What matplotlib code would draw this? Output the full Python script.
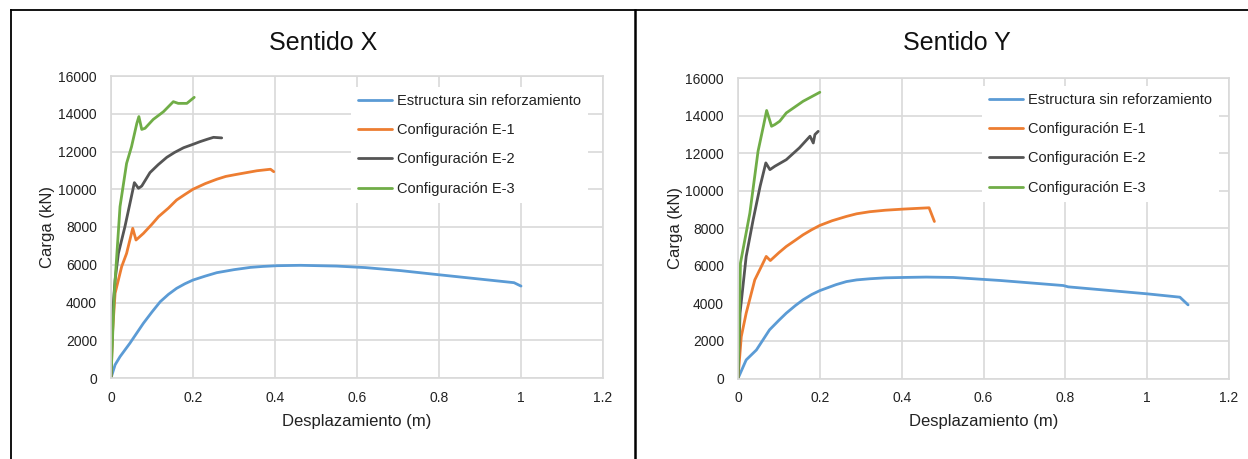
import matplotlib
matplotlib.use("Agg")
import matplotlib.pyplot as plt
from matplotlib.lines import Line2D

plt.rcParams['font.family'] = ['Liberation Sans', 'DejaVu Sans']

# ---- Sentido X ----
x_sin_X = [0, 0.01, 0.022, 0.046, 0.079, 0.1, 0.12, 0.14, 0.16, 0.18, 0.2, 0.23, 0.258,
           0.3, 0.34, 0.37, 0.405, 0.462, 0.55, 0.62, 0.706, 0.804, 0.9, 0.983, 1.0]
y_sin_X = [0, 700, 1130, 1840, 2900, 3500, 4040, 4430, 4750, 4990, 5190, 5400, 5580,
           5740, 5860, 5910, 5950, 5970, 5930, 5850, 5690, 5460, 5240, 5050, 4870]

x_e1_X = [0, 0.004, 0.01, 0.026, 0.038, 0.053, 0.061, 0.079, 0.1, 0.116, 0.14, 0.16,
          0.18, 0.2, 0.23, 0.258, 0.28, 0.307, 0.356, 0.389, 0.397]
y_e1_X = [0, 2500, 4490, 5900, 6600, 7930, 7310, 7660, 8150, 8550, 9000, 9430,
          9720, 10000, 10300, 10530, 10680, 10790, 10980, 11060, 10930]

x_e2_X = [0, 0.004, 0.01, 0.018, 0.034, 0.048, 0.057, 0.067, 0.075, 0.095, 0.115,
          0.136, 0.155, 0.177, 0.2, 0.217, 0.235, 0.25, 0.27]
y_e2_X = [0, 3500, 5190, 6600, 8020, 9430, 10350, 10050, 10170, 10880, 11300,
          11690, 11950, 12200, 12380, 12520, 12650, 12750, 12720]

x_e3_X = [0, 0.008, 0.022, 0.038, 0.05, 0.063, 0.068, 0.075, 0.083, 0.103, 0.128,
          0.152, 0.164, 0.185, 0.203]
y_e3_X = [0, 4500, 9080, 11370, 12250, 13490, 13850, 13170, 13230, 13700, 14110,
          14640, 14550, 14550, 14870]

# ---- Sentido Y ----
x_sin_Y = [0, 0.02, 0.045, 0.077, 0.1, 0.118, 0.14, 0.159, 0.18, 0.2, 0.24, 0.265, 0.29,
           0.322, 0.36, 0.404, 0.46, 0.526, 0.64, 0.795, 0.807, 0.999, 1.08, 1.1]
y_sin_Y = [0, 990, 1520, 2590, 3100, 3480, 3880, 4190, 4470, 4680, 5000, 5160, 5250,
           5310, 5360, 5380, 5400, 5380, 5220, 4950, 4880, 4510, 4330, 3920]

x_e1_Y = [0, 0.008, 0.02, 0.041, 0.057, 0.069, 0.079, 0.1, 0.118, 0.14, 0.159, 0.18,
          0.2, 0.23, 0.265, 0.29, 0.322, 0.36, 0.404, 0.44, 0.467, 0.48]
y_e1_Y = [0, 2230, 3480, 5250, 5960, 6500, 6280, 6700, 7030, 7360, 7650, 7920,
          8150, 8400, 8630, 8770, 8880, 8960, 9020, 9060, 9090, 8360]

x_e2_Y = [0, 0.005, 0.02, 0.037, 0.054, 0.068, 0.078, 0.09, 0.118, 0.15, 0.176,
          0.184, 0.188, 0.196]
y_e2_Y = [0, 3480, 6500, 8450, 10230, 11480, 11120, 11300, 11650, 12280, 12900,
          12540, 12990, 13160]

x_e3_Y = [0, 0.006, 0.029, 0.049, 0.062, 0.07, 0.082, 0.09, 0.102, 0.118, 0.159, 0.2]
y_e3_Y = [0, 6140, 8810, 12100, 13430, 14270, 13430, 13520, 13700, 14140, 14760, 15240]

series_names = ["Estructura sin reforzamiento", "Configuración E-1",
                "Configuración E-2", "Configuración E-3"]
series_colors = ["#5B9BD5", "#ED7D31", "#555555", "#70AD47"]

x_ticks = [0, 0.2, 0.4, 0.6, 0.8, 1, 1.2]
x_ticklabels = ["0", "0.2", "0.4", "0.6", "0.8", "1", "1.2"]
y_ticks = list(range(0, 16001, 2000))

W, H = 1248, 459
fig = plt.figure(figsize=(W / 100, H / 100), dpi=100)


def px_axes(l, t, r, b):
    return [l / W, 1 - b / H, (r - l) / W, (b - t) / H]


panels = [
    dict(rect=px_axes(111, 76, 603, 378), title="Sentido X", title_x=323,
         data=[(x_sin_X, y_sin_X), (x_e1_X, y_e1_X), (x_e2_X, y_e2_X), (x_e3_X, y_e3_X)],
         leg=(0.488, 0.965)),
    dict(rect=px_axes(738, 78, 1229, 378.5), title="Sentido Y", title_x=957,
         data=[(x_sin_Y, y_sin_Y), (x_e1_Y, y_e1_Y), (x_e2_Y, y_e2_Y), (x_e3_Y, y_e3_Y)],
         leg=(0.497, 0.975)),
]

grid_c = "#d9d9d9"
for p in panels:
    ax = fig.add_axes(p["rect"])
    for (xs, ys), name, col in zip(p["data"], series_names, series_colors):
        ax.plot(xs, ys, color=col, lw=2.0, label=name,
                solid_capstyle='round', solid_joinstyle='round')
    ax.set_xlim(0, 1.2)
    ax.set_ylim(0, 16000)
    ax.set_xticks(x_ticks)
    ax.set_xticklabels(x_ticklabels)
    ax.set_yticks(y_ticks)
    ax.grid(True, color=grid_c, lw=1.2)
    ax.set_axisbelow(True)
    for s in ax.spines.values():
        s.set_color(grid_c)
        s.set_linewidth(1.2)
    ax.tick_params(length=0, labelsize=10, colors="#222222")
    ax.tick_params(axis='y', pad=10)
    ax.tick_params(axis='x', pad=9)
    ax.set_xlabel("Desplazamiento (m)", fontsize=12, color="#222222")
    ax.set_ylabel("Carga (kN)", fontsize=12, color="#222222")
    ax.xaxis.set_label_coords(0.5, -0.118)
    ax.yaxis.set_label_coords(-0.113, 0.5)
    leg = ax.legend(loc="upper left", bbox_to_anchor=p["leg"], borderaxespad=0,
                    frameon=True, fontsize=10.5, handlelength=2.3, handletextpad=0.35,
                    labelspacing=1.05, borderpad=0.5, fancybox=False)
    leg.get_frame().set_facecolor("white")
    leg.get_frame().set_edgecolor("none")
    leg.get_frame().set_alpha(1)
    for t in leg.get_texts():
        t.set_color("#222222")
    fig.text(p["title_x"] / W, 1 - 43 / H, p["title"], fontsize=18,
             ha="center", va="center", color="#111111")

# outer table frame
fig.add_artist(Line2D([11 / W, 1], [1 - 10 / H, 1 - 10 / H], transform=fig.transFigure,
                      color="black", lw=1.3))
fig.add_artist(Line2D([11 / W, 11 / W], [0, 1 - 10 / H], transform=fig.transFigure,
                      color="black", lw=1.3))
fig.add_artist(Line2D([635 / W, 635 / W], [0, 1 - 10 / H], transform=fig.transFigure,
                      color="black", lw=1.8))

fig.savefig("out.png", dpi=100)
